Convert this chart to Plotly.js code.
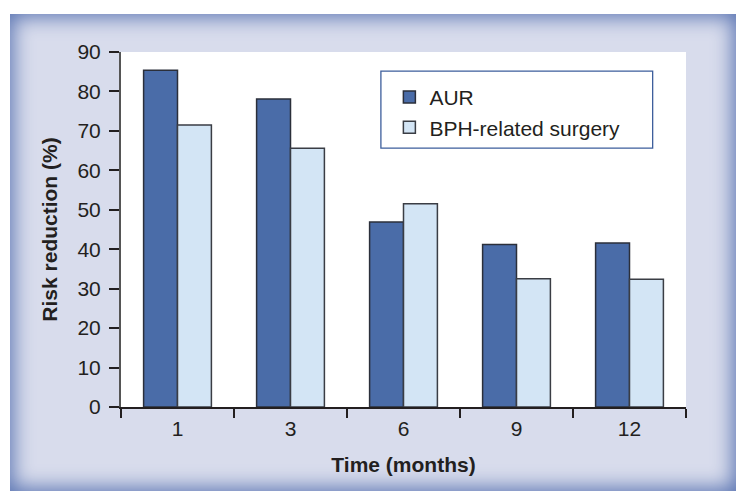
<!DOCTYPE html>
<html><head><meta charset="utf-8">
<script src="https://cdn.plot.ly/plotly-3.0.1.min.js"></script>
<style>
html,body{margin:0;padding:0;background:#fff;width:741px;height:493px;overflow:hidden;}
#frame{position:absolute;left:10px;top:14px;width:726px;height:477px;background:#d8dcec;
 box-shadow: inset 0 0 20px 3px #5a74b2;}
#chart{position:absolute;left:0;top:0;width:741px;height:493px;}
</style></head>
<body>
<div id="frame"></div>
<div id="chart"></div>
<script>
var categories = ['1', '3', '6', '9', '12'];
var aurValues = [85.4, 78.1, 46.9, 41.2, 41.6];
var bphValues = [71.5, 65.6, 51.5, 32.5, 32.4];
var seriesNames = ['AUR', 'BPH-related surgery'];
var yTicks = [0, 10, 20, 30, 40, 50, 60, 70, 80, 90];

var traces = [
 {type:'bar', x:categories, y:aurValues, name:seriesNames[0],
  marker:{color:'#4a6ca8', line:{color:'#2b2f3a', width:1.5}}},
 {type:'bar', x:categories, y:bphValues, name:seriesNames[1],
  marker:{color:'#d3e5f5', line:{color:'#3a3d44', width:1.5}}}
];
var fam = '"Liberation Sans", Arial, sans-serif';
var tickFont = {family:fam, size:21, color:'#231f20'};
var layout = {
 width:741, height:493,
 margin:{l:121, r:55, t:52, b:86},
 paper_bgcolor:'rgba(0,0,0,0)', plot_bgcolor:'#ffffff',
 font:{family:fam, size:21, color:'#231f20'},
 barmode:'group', bargap:0.4, bargroupgap:0,
 showlegend:true,
 legend:{x:0.475, y:0.93, xanchor:'left', yanchor:'top', bgcolor:'rgba(0,0,0,0)',
   borderwidth:0, font:{size:21, family:fam, color:'#231f20'}},
 shapes:[{type:'rect', xref:'paper', yref:'paper', x0:0.46, x1:0.941, y0:0.729, y1:0.946,
   fillcolor:'#ffffff', line:{color:'#3d5e9c', width:1.3}, layer:'above'}],
 xaxis:{type:'category', showline:true, linecolor:'#231f20', linewidth:2,
   ticks:'outside', tickson:'boundaries', ticklen:9, tickwidth:2, tickcolor:'#231f20',
   tickfont:tickFont, showgrid:false, automargin:false, ticklabelstandoff:2,
   title:{text:'<b>Time (months)</b>', font:{size:21}, standoff:18}},
 yaxis:{range:[0,90], tickvals:yTicks, showline:true, linecolor:'#555', linewidth:2,
   ticks:'outside', ticklen:10, tickwidth:2, tickcolor:'#231f20',
   tickfont:tickFont, showgrid:false, zeroline:false, automargin:false, ticklabelstandoff:4,
   title:{text:'<b>Risk reduction (%)</b>', font:{size:21}, standoff:14}}
};
Plotly.newPlot('chart', traces, layout, {displayModeBar:false, staticPlot:true});
</script>
</body></html>
